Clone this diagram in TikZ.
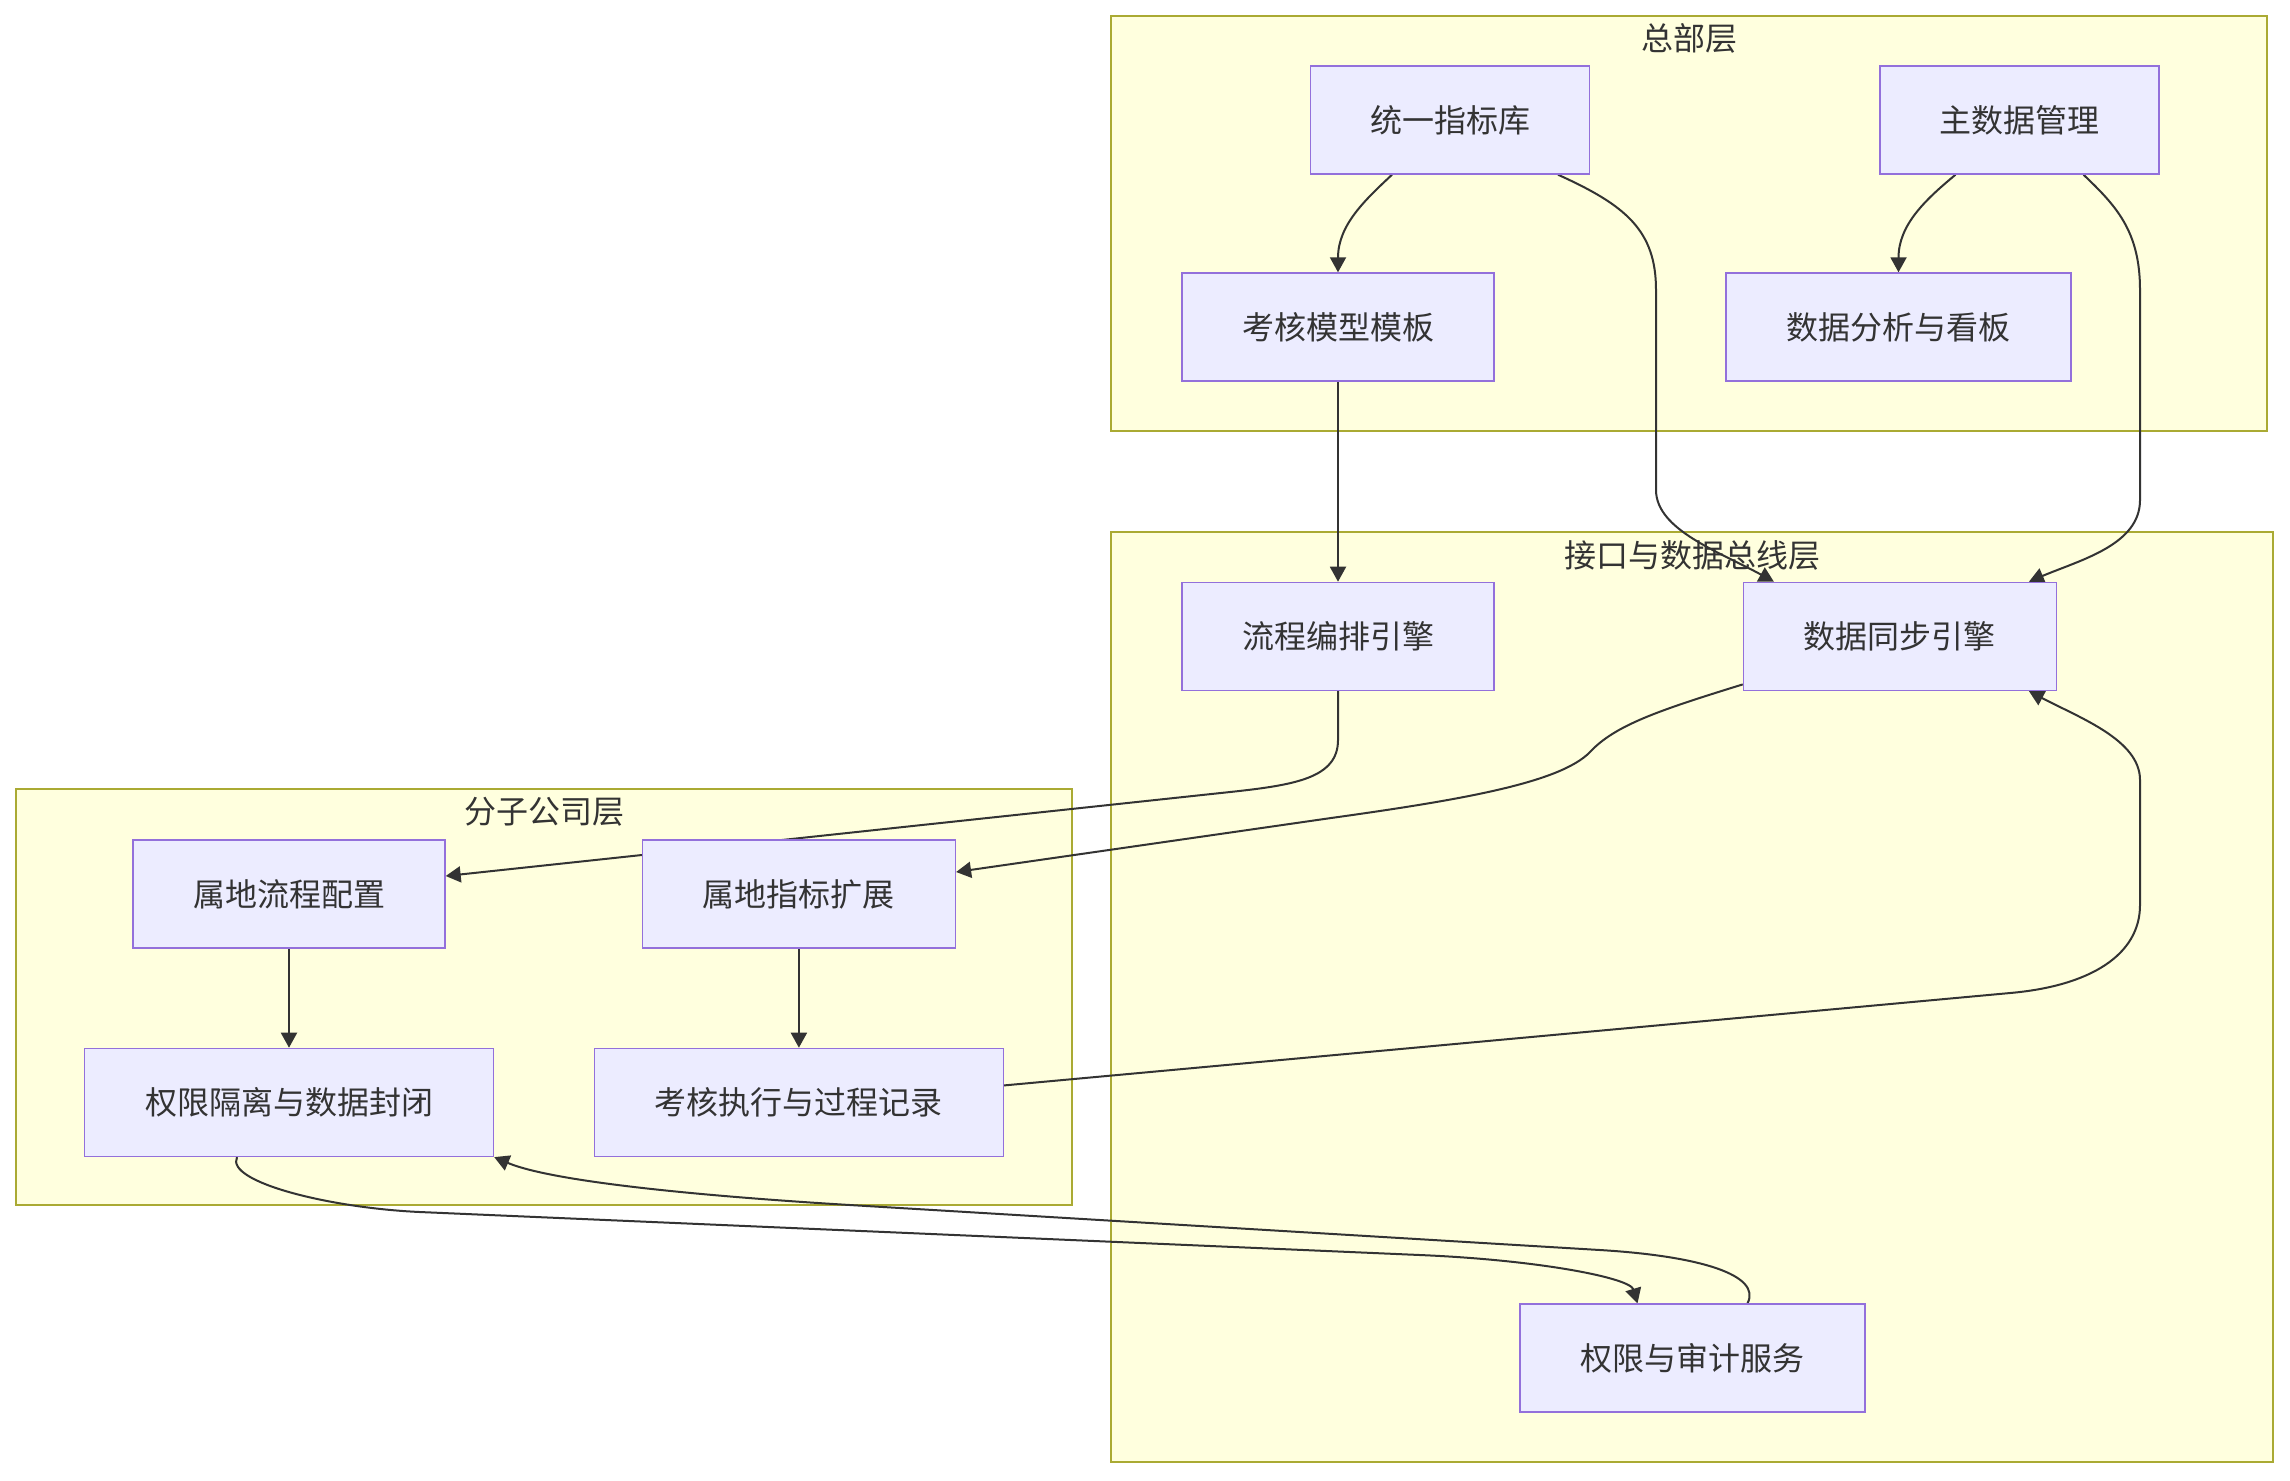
\documentclass[tikz,border=0pt]{standalone}
\usepackage{fontspec}
\setmainfont{Noto Sans CJK SC}
\usetikzlibrary{arrows.meta,calc,positioning}
\definecolor{layerfill}{HTML}{FFFFDE}
\definecolor{layerline}{HTML}{AAAA33}
\definecolor{boxfill}{HTML}{ECECFF}
\definecolor{boxline}{HTML}{9370DB}
\definecolor{inkgray}{HTML}{333333}
\pgfdeclarelayer{background}
\pgfdeclarelayer{edges}
\pgfsetlayers{background,edges,main}

\begin{document}
\begin{tikzpicture}[x=0.5pt,y=-0.5pt,font={\fontsize{16pt}{19pt}\selectfont},text=inkgray]
  \tikzset{layerbox/.style={draw=layerline, fill=layerfill, line width=0.8pt},
    layertitle/.style={inner sep=1pt, text=inkgray},
    svcbox/.style={draw=boxline, fill=boxfill, line width=0.7pt, minimum height=54pt, inner sep=0pt, text=inkgray},
    flow/.style={draw=inkgray, line width=1pt, -{Triangle[length=7.5pt,width=8pt]}}}
  \useasboundingbox (0,0) rectangle (2290,1480);
  \begin{pgfonlayer}{background}
    \fill[white] (0,0) rectangle (2290,1480);
    \draw[layerbox] (1111,16) rectangle (2267,431);
    \draw[layerbox] (1111,532) rectangle (2273,1462);
    \draw[layerbox] (16,789) rectangle (1072,1205);
  \end{pgfonlayer}
  \node[layertitle] (hqt) at (1689,38) {总部层};
  \node[layertitle] (bust) at (1692,555) {接口与数据总线层};
  \node[layertitle] (subt) at (544,812) {分子公司层};
  \node[svcbox, minimum width=139.5pt] (zbk) at (1450,120) {统一指标库};
  \node[svcbox, minimum width=139.5pt] (zsj) at (2019.5,120) {主数据管理};
  \node[svcbox, minimum width=156pt] (khmb) at (1338,327) {考核模型模板};
  \node[svcbox, minimum width=172.5pt] (sjfx) at (1898.5,327) {数据分析与看板};
  \node[svcbox, minimum width=156pt, below=100pt of khmb] (lcbp) {流程编排引擎};
  \node[svcbox, minimum width=156.5pt, right=124pt of lcbp] (sjtb) {数据同步引擎};
  \node[svcbox, minimum width=156pt] (sdlc) at (289,894) {属地流程配置};
  \node[svcbox, minimum width=156.5pt, right=98pt of sdlc] (sdzb) {属地指标扩展};
  \node[svcbox, minimum width=204.5pt, below=49.5pt of sdlc] (qxgl) {权限隔离与数据封闭};
  \node[svcbox, minimum width=204.5pt, below=49.5pt of sdzb] (khzx) {考核执行与过程记录};
  \node[svcbox, minimum width=172.5pt] (qxsj) at (1692.5,1358) {权限与审计服务};
  \begin{pgfonlayer}{edges}
    \draw[flow] ($(zbk.south)+(-58,0)$) .. controls (1365,200) and (1338,225) .. (khmb.north);
    \draw[flow] ($(zbk.south)+(108,0)$) .. controls (1625,205) and (1656,230) .. (1656,290) -- (1656,490)
      .. controls (1656,530) and (1720,552) .. ($(sjtb.north)+(-126,0)$);
    \draw[flow] ($(zsj.south)+(-64,0)$) .. controls (1925,200) and (1898.5,225) .. (sjfx.north);
    \draw[flow] ($(zsj.south)+(64,0)$) .. controls (2115,205) and (2140,230) .. (2140,290) -- (2140,500)
      .. controls (2140,545) and (2080,560) .. ($(sjtb.north)+(129,0)$);
    \draw[flow] (khmb) -- (lcbp);
    \draw[flow] (lcbp.south) -- (1338,740) .. controls (1338,778) and (1295,785) .. (1230,792)
      -- ($(sdlc.east)+(0,-18)$);
    \draw[flow] ($(sjtb.west)+(0,48)$) .. controls (1660,710) and (1615,725) .. (1590,752)
      .. controls (1560,783) and (1460,800) .. (1331,818) -- ($(sdzb.east)+(0,-22)$);
    \draw[flow] (sdlc) -- (qxgl);
    \draw[flow] (sdzb) -- (khzx);
    \draw[flow] ($(khzx.east)+(0,-17)$) -- (2010,993) .. controls (2090,986) and (2140,955) .. (2140,905)
      -- (2140,780) .. controls (2140,740) and (2080,718) .. ($(sjtb.south)+(129,0)$);
    \draw[flow] ($(qxgl.south)+(-52,0)$) .. controls (225,1182) and (330,1208) .. (420,1212)
      -- (1420,1255) .. controls (1540,1260) and (1630,1278) .. ($(qxsj.north)+(-55,0)$);
    \draw[flow] ($(qxsj.north)+(55,0)$) .. controls (1762,1275) and (1700,1256) .. (1600,1250)
      -- (850,1205) .. controls (750,1199) and (560,1185) .. (qxgl.south east);
  \end{pgfonlayer}
\end{tikzpicture}
\end{document}
